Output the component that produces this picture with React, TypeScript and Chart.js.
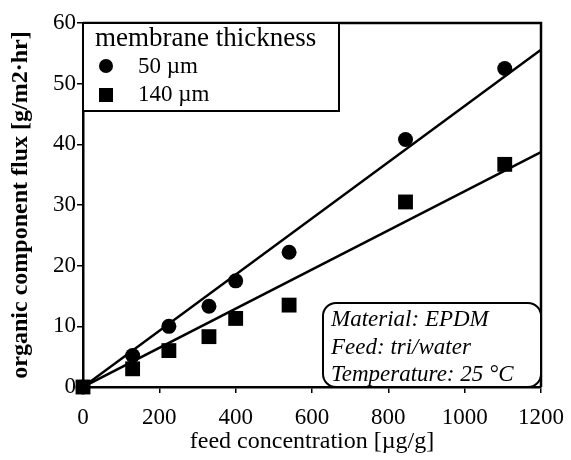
import React, { useEffect, useRef } from "react";
import { Chart, registerables } from "chart.js";

Chart.register(...registerables);

const feedConc = [0, 130, 225, 330, 400, 540, 845, 1105];
const flux50 = [0, 5.2, 10, 13.3, 17.5, 22.2, 40.8, 52.5];
const flux140 = [0, 3, 6, 8.3, 11.3, 13.5, 30.5, 36.7];
const fitX = [0, 1200];
const fit50 = [0, 55.6];
const fit140 = [0, 38.7];
const seriesLabels = ["50 µm", "140 µm"];
const legendTitle = "membrane thickness";
const annotationLines = ["Material: EPDM", "Feed: tri/water", "Temperature: 25 °C"];
const xTitle = "feed concentration [µg/g]";
const yTitle = "organic component flux [g/m2·hr]";

const FONT = "'Liberation Serif', 'Times New Roman', serif";

const boxesPlugin = {
  id: "boxes",
  afterDraw(chart: any) {
    const { ctx, chartArea: ca } = chart;
    ctx.save();
    // frame top/right
    ctx.strokeStyle = "#000";
    ctx.lineWidth = 2.5;
    ctx.beginPath();
    ctx.moveTo(ca.left, ca.top);
    ctx.lineTo(ca.right, ca.top);
    ctx.lineTo(ca.right, ca.bottom);
    ctx.stroke();

    // legend box
    const L = ca.left, T = ca.top, W = 256, H = 88;
    ctx.fillStyle = "#fff";
    ctx.fillRect(L, T, W, H);
    ctx.lineWidth = 2;
    ctx.strokeRect(L, T, W, H);
    ctx.fillStyle = "#000";
    ctx.textBaseline = "middle";
    ctx.textAlign = "left";
    ctx.font = `27px ${FONT}`;
    ctx.fillText(legendTitle, L + 12, T + 16);
    ctx.font = `23px ${FONT}`;
    // circle marker
    ctx.beginPath();
    ctx.arc(L + 23, T + 43, 7, 0, Math.PI * 2);
    ctx.fill();
    ctx.fillText(seriesLabels[0], L + 55, T + 44);
    ctx.fillRect(L + 16, T + 65, 14, 14);
    ctx.fillText(seriesLabels[1], L + 55, T + 72);

    // annotation box
    const aw = 218, ah = 84;
    const ax = ca.right - aw, ay = ca.bottom - ah;
    const r = 13;
    ctx.beginPath();
    ctx.moveTo(ax + r, ay);
    ctx.lineTo(ax + aw - r, ay);
    ctx.arcTo(ax + aw, ay, ax + aw, ay + r, r);
    ctx.lineTo(ax + aw, ay + ah - r);
    ctx.arcTo(ax + aw, ay + ah, ax + aw - r, ay + ah, r);
    ctx.lineTo(ax + r, ay + ah);
    ctx.arcTo(ax, ay + ah, ax, ay + ah - r, r);
    ctx.lineTo(ax, ay + r);
    ctx.arcTo(ax, ay, ax + r, ay, r);
    ctx.closePath();
    ctx.fillStyle = "#fff";
    ctx.fill();
    ctx.lineWidth = 2;
    ctx.stroke();
    ctx.fillStyle = "#000";
    ctx.font = `italic 23px ${FONT}`;
    const offs = [17, 45, 72];
    annotationLines.forEach((t, i) => ctx.fillText(t, ax + 8, ay + offs[i]));
    ctx.restore();
  },
};

export default function App() {
  const ref = useRef<HTMLCanvasElement>(null);
  useEffect(() => {
    const prevMargin = document.body.style.margin;
    document.body.style.margin = "0";
    const pts = (ys: number[]) => feedConc.map((x, i) => ({ x, y: ys[i] }));
    const line = (ys: number[]) => fitX.map((x, i) => ({ x, y: ys[i] }));
    const chart = new Chart(ref.current!, {
      type: "scatter",
      data: {
        datasets: [
          {
            label: seriesLabels[0],
            data: pts(flux50),
            pointStyle: "circle",
            pointRadius: 7.5,
            backgroundColor: "#000",
            borderColor: "#000",
            borderWidth: 0,
            clip: false,
          } as any,
          {
            label: seriesLabels[1],
            data: pts(flux140),
            pointStyle: "rect",
            pointRadius: 10.5,
            backgroundColor: "#000",
            borderColor: "#000",
            borderWidth: 0,
            clip: false,
          } as any,
          {
            label: "fit 50",
            data: line(fit50),
            showLine: true,
            pointRadius: 0,
            borderColor: "#000",
            borderWidth: 2.5,
          },
          {
            label: "fit 140",
            data: line(fit140),
            showLine: true,
            pointRadius: 0,
            borderColor: "#000",
            borderWidth: 2.5,
          },
        ],
      },
      options: {
        responsive: false,
        animation: false,
        layout: { padding: { top: 23, right: 30, left: 0, bottom: 0 } },
        plugins: { legend: { display: false }, tooltip: { enabled: false } },
        scales: {
          x: {
            type: "linear",
            min: 0,
            max: 1200,
            afterFit: (s: any) => {
              s.height = 73;
              s.paddingRight = 0;
              s.paddingLeft = 0;
            },
            ticks: {
              stepSize: 100,
              color: "#000",
              font: { family: FONT, size: 23 },
              padding: 11,
              maxRotation: 0,
              callback: (v: any) => (Number(v) % 200 === 0 ? String(v) : ""),
            },
            grid: { drawOnChartArea: false, color: "#000", lineWidth: 1.5, tickLength: 6 },
            border: { color: "#000", width: 2.5 },
            title: {
              display: true,
              text: xTitle,
              color: "#000",
              font: { family: FONT, size: 24 },
              padding: { top: 0, bottom: 4 },
            },
          },
          y: {
            type: "linear",
            min: 0,
            max: 60,
            afterFit: (s: any) => {
              s.width = 83;
              s.paddingTop = 0;
              s.paddingBottom = 0;
            },
            ticks: {
              stepSize: 5,
              color: "#000",
              font: { family: FONT, size: 23 },
              padding: 1,
              callback: (v: any) => (Number(v) % 10 === 0 ? String(v) : ""),
            },
            grid: { drawOnChartArea: false, color: "#000", lineWidth: 1.5, tickLength: 6 },
            border: { color: "#000", width: 2.5 },
            title: {
              display: true,
              text: yTitle,
              color: "#000",
              font: { family: FONT, size: 24, weight: "bold" },
              padding: { top: 6, bottom: 0 },
            },
          },
        },
      },
      plugins: [boxesPlugin],
    });
    return () => {
      chart.destroy();
      document.body.style.margin = prevMargin;
    };
  }, []);
  return (
    <div style={{ width: 571, height: 460, background: "#fff" }}>
      <canvas ref={ref} width={571} height={460} />
    </div>
  );
}
